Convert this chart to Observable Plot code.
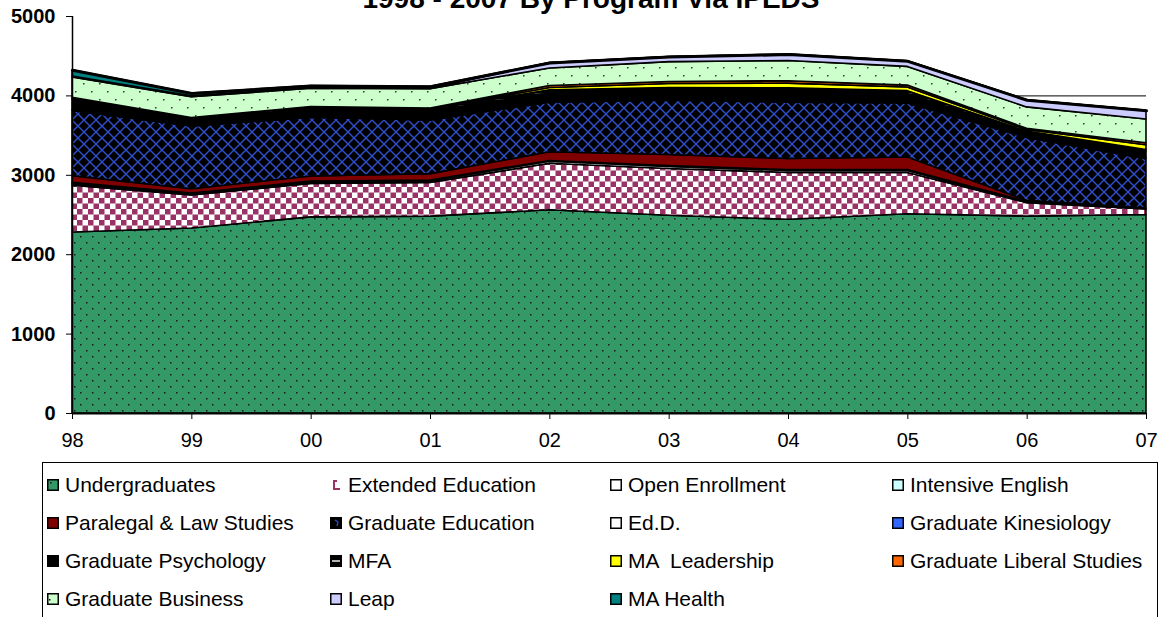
<!DOCTYPE html>
<html>
<head>
<meta charset="utf-8">
<script src="https://cdn.jsdelivr.net/npm/d3@7"></script>
<script src="https://cdn.jsdelivr.net/npm/@observablehq/plot@0.6"></script>
<style>
  html, body { margin: 0; padding: 0; background: #fff; overflow: hidden; }
  body { width: 1164px; height: 617px; position: relative; font-family: "Liberation Sans", Arial, sans-serif; }
  #title { position: absolute; left: 9px; width: 1164px; top: -14.7px; text-align: center;
           font-size: 28px; line-height: 28px; font-weight: bold; color: #000; white-space: nowrap; }
  #chart { position: absolute; left: 0; top: 0; }
  #legend { position: absolute; left: 42px; top: 462px; width: 1116px; height: 200px;
            border: 1px solid #000; box-sizing: border-box; }
  .item { position: absolute; display: flex; align-items: center; height: 24px;
          font-size: 21px; line-height: 24px; color: #000; white-space: nowrap; }
  .item svg { margin-right: 6px; flex: none; }
</style>
</head>
<body>
<svg width="0" height="0" style="position:absolute">
  <defs>
    <pattern id="pUnder" width="12" height="12" patternUnits="userSpaceOnUse">
      <rect width="12" height="12" fill="#339966"/>
      <rect x="2" y="2" width="1.5" height="1.5" fill="#1a1a1a"/>
      <rect x="8" y="8" width="1.5" height="1.5" fill="#1a1a1a"/>
    </pattern>
    <pattern id="pExt" width="11" height="11" patternUnits="userSpaceOnUse">
      <rect width="11" height="11" fill="#ffffff"/>
      <rect x="0" y="0" width="5.5" height="5.5" fill="#993366"/>
      <rect x="5.5" y="5.5" width="5.5" height="5.5" fill="#993366"/>
    </pattern>
    <pattern id="pGradEd" width="12" height="12" patternUnits="userSpaceOnUse">
      <rect width="12" height="12" fill="#000000"/>
      <path d="M0,0L12,12M12,0L0,12M-1,11L1,13M11,-1L13,1" stroke="#2f4fcf" stroke-width="1.4"/>
    </pattern>
    <pattern id="pMFA" width="6" height="6" patternUnits="userSpaceOnUse">
      <rect width="6" height="6" fill="#000000"/>
      <rect x="0" y="3" width="6" height="0.6" fill="#555555"/>
    </pattern>
    <pattern id="pBus" width="16" height="16" patternUnits="userSpaceOnUse">
      <rect width="16" height="16" fill="#ccffcc"/>
      <rect x="3" y="3" width="1.5" height="1.5" fill="#333333"/>
      <rect x="11" y="11" width="1.5" height="1.5" fill="#333333"/>
    </pattern>
  </defs>
</svg>
<div id="title">1998 - 2007 By Program Via IPEDS</div>
<div id="chart"></div>
<div id="legend"></div>
<script>
// ---- data ----
const years = [1998, 1999, 2000, 2001, 2002, 2003, 2004, 2005, 2006, 2007];
const yTicks = [0, 1000, 2000, 3000, 4000, 5000];
const seriesNames = [
  "Undergraduates", "Extended Education", "Open Enrollment", "Intensive English",
  "Paralegal & Law Studies", "Graduate Education", "Ed.D.", "Graduate Kinesiology",
  "Graduate Psychology", "MFA", "MA  Leadership", "Graduate Liberal Studies",
  "Graduate Business", "Leap", "MA Health"
];
const undergrad  = [2280, 2330, 2470, 2480, 2560, 2490, 2440, 2510, 2480, 2500];
const extended   = [590, 415, 420, 425, 585, 590, 590, 520, 170, 70];
const openEnroll = [20, 15, 20, 20, 25, 25, 25, 25, 10, 5];
const intensive  = [15, 10, 10, 10, 10, 10, 10, 10, 5, 0];
const paralegal  = [85, 55, 65, 80, 110, 140, 140, 160, 15, 8];
const gradEd     = [820, 790, 740, 675, 625, 685, 710, 680, 790, 620];
const edd        = [0, 0, 0, 0, 15, 15, 15, 15, 10, 10];
const kines      = [15, 10, 10, 10, 10, 10, 10, 10, 5, 5];
const psych      = [130, 75, 100, 100, 90, 95, 110, 90, 45, 80];
const mfa        = [20, 20, 25, 25, 40, 40, 45, 40, 20, 20];
const leadership = [0, 0, 0, 0, 30, 50, 60, 45, 20, 60];
const liberal    = [0, 0, 0, 15, 25, 25, 30, 25, 15, 25];
const business   = [257, 265, 230, 245, 220, 250, 255, 235, 270, 300];
const leap       = [12, 10, 10, 10, 70, 65, 80, 70, 90, 110];
const maHealth   = [80, 35, 25, 20, 0, 0, 0, 0, 0, 0];

const seriesValues = [undergrad, extended, openEnroll, intensive, paralegal, gradEd, edd, kines,
  psych, mfa, leadership, liberal, business, leap, maHealth];
const seriesFills = ["url(#pUnder)", "url(#pExt)", "#ffffff", "#ccffff", "#800000", "url(#pGradEd)",
  "#ffffff", "#3366ff", "#000000", "url(#pMFA)", "#ffff00", "#ff6600", "url(#pBus)", "#ccccff", "#008080"];

const rows = [];
seriesNames.forEach((s, i) => years.forEach((yr, j) => rows.push({series: s, year: yr, value: seriesValues[i][j]})));
const totals = years.map((yr, j) => ({year: yr, total: d3.sum(seriesValues, v => v[j])}));

const chart = Plot.plot({
  width: 1164, height: 460,
  marginLeft: 72, marginRight: 18, marginTop: 16, marginBottom: 47,
  style: {fontFamily: "'Liberation Sans', Arial, sans-serif", fontSize: "20px", color: "#000", background: "transparent", overflow: "visible"},
  x: {domain: [1998, 2007], label: null},
  y: {domain: [0, 5000], label: null},
  color: {type: "ordinal", domain: seriesNames, range: seriesFills},
  marks: [
    Plot.ruleY([1000, 2000, 3000, 4000], {stroke: "#000", strokeWidth: 1}),
    Plot.areaY(rows, {x: "year", y: "value", z: "series", fill: "series", order: null,
      stroke: "#000", strokeWidth: 1.6, strokeLinejoin: "miter"}),
    Plot.lineY(totals, {x: "year", y: "total", stroke: "#000", strokeWidth: 3}),
    Plot.ruleX([1998], {stroke: "#000", strokeWidth: 1.5}),
    Plot.ruleY([0], {stroke: "#000", strokeWidth: 2}),
    Plot.axisX({ticks: years, tickFormat: d => String(d).slice(2), tickSize: 6, tickPadding: 13,
      stroke: "#000", fontSize: 20, label: null}),
    Plot.axisY({ticks: yTicks, tickFormat: d => String(d), tickSize: 6, tickPadding: 11, stroke: "#000", fontSize: 20,
      fontWeight: "bold", label: null})
  ]
});
document.getElementById("chart").appendChild(chart);
// x tick labels regular weight, y tick labels bold
chart.querySelectorAll('g[aria-label="x-axis tick label"], g[aria-label="x-axis tick label"] text')
  .forEach(el => { el.setAttribute("font-weight", "normal"); el.style.fontWeight = "normal"; });
chart.querySelectorAll('g[aria-label="y-axis tick label"], g[aria-label="y-axis tick label"] text')
  .forEach(el => { el.setAttribute("font-weight", "bold"); el.style.fontWeight = "bold"; });

// ---- legend ----
const legendCols = [47, 330, 610, 892];
const legendRows = [485, 523, 561, 599];
const swatchSvg = {
  "Undergraduates": '<rect x="0.75" y="0.75" width="10.5" height="10.5" fill="#339966" stroke="#000" stroke-width="1.5"/><rect x="3" y="3" width="1.5" height="1.5" fill="#111"/>',
  "Extended Education": '<path d="M3,1h4v2h-2v6h5v2h-7z" fill="#993366"/>',
  "Open Enrollment": '<rect x="0.75" y="0.75" width="10.5" height="10.5" fill="#fff" stroke="#000" stroke-width="1.5"/>',
  "Intensive English": '<rect x="0.75" y="0.75" width="10.5" height="10.5" fill="#ccffff" stroke="#000" stroke-width="1.5"/>',
  "Paralegal & Law Studies": '<rect x="0.75" y="0.75" width="10.5" height="10.5" fill="#800000" stroke="#000" stroke-width="1.5"/>',
  "Graduate Education": '<rect x="0.75" y="0.75" width="10.5" height="10.5" fill="#000" stroke="#000" stroke-width="1.5"/><path d="M5,3L8,5L7,9" fill="none" stroke="#2f4fcf" stroke-width="1.2"/>',
  "Ed.D.": '<rect x="0.75" y="0.75" width="10.5" height="10.5" fill="#fff" stroke="#000" stroke-width="1.5"/>',
  "Graduate Kinesiology": '<rect x="0.75" y="0.75" width="10.5" height="10.5" fill="#3366ff" stroke="#000" stroke-width="1.5"/>',
  "Graduate Psychology": '<rect x="0.75" y="0.75" width="10.5" height="10.5" fill="#000" stroke="#000" stroke-width="1.5"/>',
  "MFA": '<rect x="0.75" y="0.75" width="10.5" height="10.5" fill="#000" stroke="#000" stroke-width="1.5"/><rect x="2" y="5.3" width="8" height="1.4" fill="#fff"/>',
  "MA  Leadership": '<rect x="0.75" y="0.75" width="10.5" height="10.5" fill="#ffff00" stroke="#000" stroke-width="1.5"/>',
  "Graduate Liberal Studies": '<rect x="0.75" y="0.75" width="10.5" height="10.5" fill="#ff6600" stroke="#000" stroke-width="1.5"/>',
  "Graduate Business": '<rect x="0.75" y="0.75" width="10.5" height="10.5" fill="#ccffcc" stroke="#000" stroke-width="1.5"/><rect x="2" y="6" width="1.5" height="1.5" fill="#111"/>',
  "Leap": '<rect x="0.75" y="0.75" width="10.5" height="10.5" fill="#ccccff" stroke="#000" stroke-width="1.5"/>',
  "MA Health": '<rect x="0.75" y="0.75" width="10.5" height="10.5" fill="#008080" stroke="#000" stroke-width="1.5"/>'
};
const legend = document.getElementById("legend");
seriesNames.forEach((s, i) => {
  const r = Math.floor(i / 4), c = i % 4;
  const item = document.createElement("div");
  item.className = "item";
  item.style.left = (legendCols[c] - 43) + "px";
  item.style.top = (legendRows[r] - 12 - 463) + "px";
  item.innerHTML = '<svg width="12" height="12" viewBox="0 0 12 12">' + swatchSvg[s] + '</svg>';
  const span = document.createElement("span");
  span.textContent = s;
  span.style.whiteSpace = "pre";
  item.appendChild(span);
  legend.appendChild(item);
});
</script>
</body>
</html>
